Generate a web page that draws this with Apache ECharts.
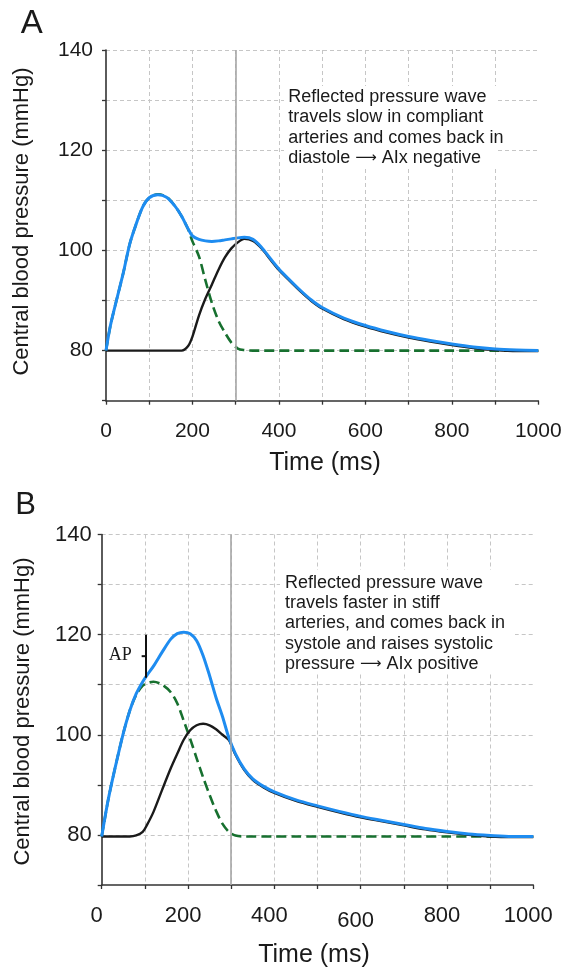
<!DOCTYPE html>
<html><head><meta charset="utf-8">
<script src="https://cdn.jsdelivr.net/npm/echarts@6/dist/echarts.min.js"></script>
<style>html,body{margin:0;padding:0;background:#fff}#c{width:568px;height:971px}</style>
</head><body><div id="c"></div>
<script>
// ---------- Panel A data (compliant arteries) ----------
const timeA = [0,10,25,40,55,70,85,100,120,140,160,175,190,200,215,230,245,260,275,290,305,320,340,360,380,400,425,450,475,500,550,600,650,700,750,800,850,900,950,1000];
const totalA = [80,84.9,90.3,95.5,101.3,105.3,108.7,110.5,111.1,110.6,108.8,106.8,104.3,102.9,102.2,101.9,101.8,101.9,102.1,102.3,102.5,102.6,102.2,100.6,98.4,96.3,94.1,92,90.1,88.6,86.5,85,83.8,82.8,82,81.3,80.7,80.3,80.1,80];
const forwardA = [80,84.9,90.3,95.5,101.3,105.3,108.7,110.5,111.2,110.7,108.8,106.8,104.2,101.8,98.8,94,89.5,86,83.6,81.6,80.4,80.1,80,80,80,80,80,80,80,80,80,80,80,80,80,80,80,80,80,80];
const reflectedA = [80,80,80,80,80,80,80,80,80,80,80,80,80.9,82.8,87,90.4,93.2,96.1,98.6,100.4,101.6,102.3,101.9,100.4,98.2,96.1,93.9,91.8,89.9,88.4,86.3,84.8,83.6,82.6,81.8,81.1,80.5,80.1,79.9,79.9];

// ---------- Panel B data (stiff arteries) ----------
const timeB = [0,15,30,50,65,80,95,105,120,140,160,175,190,205,220,235,250,265,280,295,310,330,350,375,400,450,500,550,600,650,700,750,800,850,900,950,1000];
const totalB = [79.7,87,93,100.3,104.8,108.2,110.6,111.9,113.7,116.5,119.1,120.2,120.5,120.2,118.8,115.8,111.8,107.4,103.6,99.3,96.2,93.2,91.2,89.7,88.6,87,85.8,84.7,83.7,82.9,82.1,81.3,80.7,80.2,79.9,79.7,79.7];
const forwardB = [79.7,87,93,100.3,104.8,108,109.8,110.3,110.6,110,108.5,106.3,102.8,99.2,95.3,91.5,88,84.8,82.2,80.6,79.9,79.7,79.7,79.7,79.7,79.7,79.7,79.7,79.7,79.7,79.7,79.7,79.7,79.7,79.7,79.7,79.7];
const reflectedB = [79.7,79.7,79.7,79.7,79.7,79.9,80.6,82,84.6,89,93.3,96.2,99,100.9,101.9,102.2,101.9,101.1,100,98.9,96,93,91,89.5,88.4,86.8,85.6,84.5,83.5,82.7,81.9,81.1,80.5,80,79.7,79.6,79.6];

// ---------- Axes / annotations ----------
const xLabels = [0,200,400,600,800,1000];
const yLabels = [80,100,120,140];
const systoleEnd = 300;          // ms, vertical reference line
const apTime = 103;              // ms, augmentation pressure marker
const apLow = 111.4, apHigh = 120;
const panelNames = ['A','B'];
const xName = 'Time (ms)';
const yName = 'Central blood pressure (mmHg)';
const noteA = ['Reflected pressure wave','travels slow in compliant','arteries and comes back in','diastole {arr|\u27F6} AIx negative'];
const noteB = ['Reflected pressure wave','travels faster in stiff','arteries, and comes back in','systole and raises systolic','pressure {arr|\u27F6} AIx positive'];

const FONT = 'Liberation Sans, Arial, Helvetica, sans-serif';
const BLUE = '#1e8cf0', BLACK = '#1a1a1a', GREEN = '#17702f';
const AXIS = '#333333', GRID = '#c6c6c6';

const zip = (t, v) => t.map((x, i) => [x, v[i]]);

function xAxis(gi, fs, shiftPad, lowVal) {
  return {
    type: 'value', gridIndex: gi, min: 0, max: 1000, interval: 100,
    axisLine: { show: true, onZero: false, lineStyle: { color: AXIS, width: 1.6 } },
    axisTick: { show: true, length: 4, lineStyle: { color: AXIS, width: 1.3 } },
    axisLabel: {
      fontSize: fs, color: '#1a1a1a', fontFamily: FONT, margin: 20, padding: [0, shiftPad, 0, 0],
      formatter: v => xLabels.includes(v) ? (v === lowVal ? '{low|' + v + '}' : String(v)) : '',
      rich: { low: { fontSize: fs, fontFamily: FONT, color: '#1a1a1a', padding: [5, 0, 0, 0] } }
    },
    splitLine: { show: true, showMinLine: false, showMaxLine: false, lineStyle: { color: GRID, width: 1, type: [4, 3] } }
  };
}
function yAxis(gi, fs, margin) {
  return {
    type: 'value', gridIndex: gi, min: 70, max: 140, interval: 10,
    axisLine: { show: true, onZero: false, lineStyle: { color: AXIS, width: 1.6 } },
    axisTick: { show: true, length: 4, lineStyle: { color: AXIS, width: 1.3 } },
    axisLabel: { fontSize: fs, color: '#1a1a1a', fontFamily: FONT, margin: margin,
      formatter: v => yLabels.includes(v) ? String(v) : '' },
    splitLine: { show: true, showMinLine: false, lineStyle: { color: GRID, width: 1, type: [4, 3] } }
  };
}
function series(gi, t, fwd, refl, tot, extraBlue) {
  const base = { type: 'line', xAxisIndex: gi, yAxisIndex: gi, showSymbol: false, smooth: 0.3, silent: true, animation: false };
  return [
    Object.assign({}, base, { name: 'forward', data: zip(t, fwd), z: 2,
      lineStyle: { color: GREEN, width: 2.6, type: [10, 5] },
      markLine: { silent: true, symbol: 'none', animation: false, label: { show: false },
        lineStyle: { color: '#a6a6a6', width: 1.6, type: 'solid' }, data: [{ xAxis: systoleEnd }] } }),
    Object.assign({}, base, { name: 'reflected', data: zip(t, refl), z: 3,
      lineStyle: { color: BLACK, width: 2.4 } }),
    Object.assign({}, base, { name: 'total', data: zip(t, tot), z: 4,
      lineStyle: { color: BLUE, width: 3 } }, extraBlue || {})
  ];
}

const chart = echarts.init(document.getElementById('c'), null, { renderer: 'canvas' });
const option = {
  animation: false,
  backgroundColor: '#ffffff',
  grid: [
    { left: 106, top: 50, width: 432.3, height: 350.7 },
    { left: 101.7, top: 534.5, width: 431.6, height: 350.5 }
  ],
  xAxis: [xAxis(0, 21, 0, -1), xAxis(1, 22, 10, 600)],
  yAxis: [yAxis(0, 21, 13), yAxis(1, 22, 10)],
  series: [].concat(
    series(0, timeA, forwardA, reflectedA, totalA),
    series(1, timeB, forwardB, reflectedB, totalB, {
      markLine: { silent: true, symbol: 'none', animation: false, label: { show: false },
        lineStyle: { color: '#111', width: 2, type: 'solid' },
        data: [[{ coord: [apTime, apLow] }, { coord: [apTime, apHigh] }]] }
    })
  )
};
chart.setOption(option);

const apMid = chart.convertToPixel({ gridIndex: 1 }, [apTime, (apLow + apHigh) / 2]);

function txt(text, x, y, size, extra) {
  return Object.assign({ type: 'text', x: x, y: y, silent: true, z: 10,
    style: { text: text, font: size + 'px ' + FONT, fill: '#1a1a1a', textAlign: 'center', textVerticalAlign: 'middle' } },
    extra && extra.rotation !== undefined ? { rotation: extra.rotation } : {});
}
function note(lines, x, y) {
  return { type: 'text', silent: true, z: 10, x: x, y: y,
    style: { text: lines.join('\n'), font: '18px ' + FONT, lineHeight: 20.3, fill: '#1a1a1a',
      textAlign: 'left', textVerticalAlign: 'top',
      rich: { arr: { fontFamily: 'DejaVu Sans', fontSize: 15, lineHeight: 20.3, fill: '#1a1a1a' } } } };
}

const graphics = [
  txt(panelNames[0], 31.7, 24, 33),
  txt(panelNames[1], 25.5, 505, 31),
  txt(yName, 22, 221.5, 22, { rotation: Math.PI / 2 }),
  txt(yName, 23, 711.5, 22, { rotation: Math.PI / 2 }),
  txt(xName, 325, 463, 25),
  txt(xName, 314, 955, 25),
  { type: 'rect', silent: true, z: 8, shape: { x: 284, y: 86, width: 213, height: 82 }, style: { fill: '#ffffff' } },
  { type: 'rect', silent: true, z: 8, shape: { x: 280, y: 570, width: 235, height: 102 }, style: { fill: '#ffffff' } },
  note(noteA, 288.3, 86.8),
  note(noteB, 285, 572.5),
  { type: 'line', silent: true, z: 10, shape: { x1: apMid[0] - 4.5, y1: apMid[1], x2: apMid[0], y2: apMid[1] },
    style: { stroke: '#111', lineWidth: 2 } },
  { type: 'text', silent: true, z: 10, x: apMid[0] - 14.5, y: apMid[1] - 1,
    style: { text: 'AP', font: '18px Liberation Serif, Times New Roman, serif', fill: '#1a1a1a', textAlign: 'right', textVerticalAlign: 'middle' } }
];
chart.setOption({ graphic: graphics });
</script>
</body></html>
